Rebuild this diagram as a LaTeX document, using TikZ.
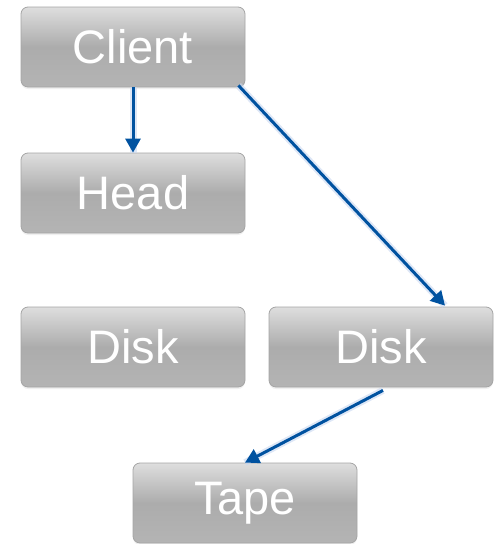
\documentclass[tikz,border=0pt]{standalone}
\usepackage{fontspec}
\setmainfont{Liberation Sans}
\usetikzlibrary{calc,shadows,arrows.meta}
\definecolor{arrowblue}{RGB}{0,82,160}
\definecolor{glowblue}{RGB}{200,215,240}
\tikzset{
  box/.style={rounded corners=7pt, draw={rgb,255:red,165;green,165;blue,165}, line width=0.8pt,
    top color={rgb,255:red,222;green,222;blue,222}, bottom color={rgb,255:red,180;green,180;blue,180},
    middle color={rgb,255:red,172;green,172;blue,172},
    minimum width=224pt, minimum height=80pt, inner sep=0pt,
    text=white, font=\fontsize{47}{52}\selectfont,
    drop shadow={opacity=0.12, shadow xshift=0pt, shadow yshift=-2pt}},
  conn/.style={draw=arrowblue, line width=3pt, -{Triangle[length=14pt,width=15pt]},
    preaction={draw=glowblue, line width=7pt, opacity=0.6, -}}
}
\begin{document}
\begin{tikzpicture}[x=1pt,y=-1pt]
\useasboundingbox (0,0) rectangle (499,544);
\node[box] (client) at (133,47) {Client};
\node[box] (head) at (133,193) {Head};
\node[box] (disk1) at (133,347) {Disk};
\node[box] (disk2) at (381,347) {Disk};
\node[box] (tape) at (245,503) {Tape};
\draw[conn] (client.south) -- (head.north);
\draw[conn] ($(client.south east)+(-7,-2)$) -- ($(disk2.north)+(64,-1)$);
\draw[conn] ($(disk2.south)+(2,3)$) -- (tape.north);
\end{tikzpicture}
\end{document}
